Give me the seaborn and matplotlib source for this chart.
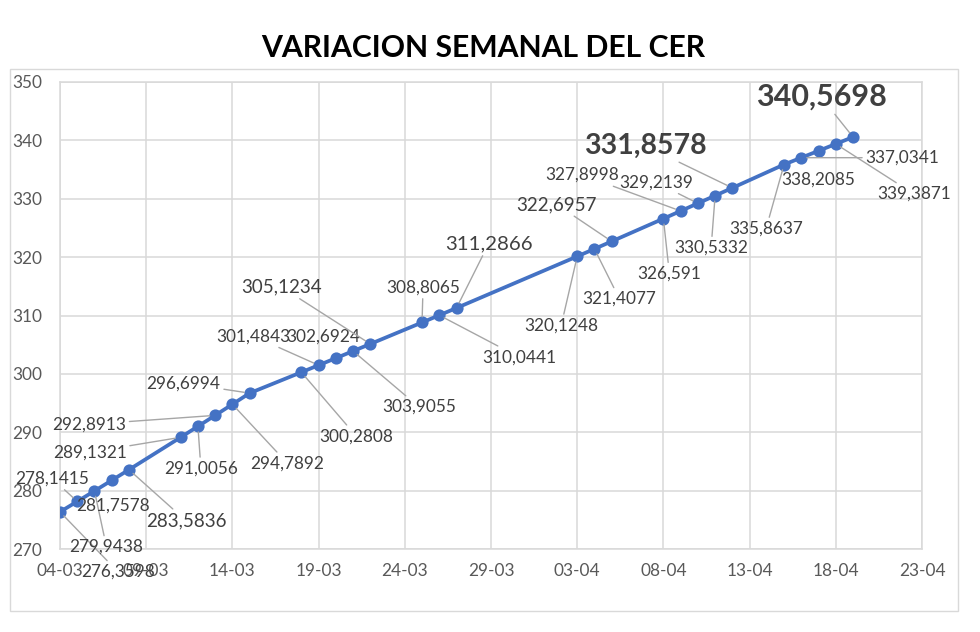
import matplotlib
matplotlib.use("Agg")
import matplotlib.pyplot as plt
import matplotlib.dates as mdates
from matplotlib.patches import Rectangle
import seaborn as sns
import pandas as pd

# ---------------- data ----------------
dates = ["2024-03-04", "2024-03-05", "2024-03-06", "2024-03-07", "2024-03-08",
         "2024-03-11", "2024-03-12", "2024-03-13", "2024-03-14", "2024-03-15",
         "2024-03-18", "2024-03-19", "2024-03-20", "2024-03-21", "2024-03-22",
         "2024-03-25", "2024-03-26", "2024-03-27",
         "2024-04-03", "2024-04-04", "2024-04-05",
         "2024-04-08", "2024-04-09", "2024-04-10", "2024-04-11", "2024-04-12",
         "2024-04-15", "2024-04-16", "2024-04-17", "2024-04-18", "2024-04-19"]
cer = [276.3598, 278.1415, 279.9438, 281.7578, 283.5836,
       289.1321, 291.0056, 292.8913, 294.7892, 296.6994,
       300.2808, 301.4843, 302.6924, 303.9055, 305.1234,
       308.8065, 310.0441, 311.2866,
       320.1248, 321.4077, 322.6957,
       326.591, 327.8998, 329.2139, 330.5332, 331.8578,
       335.8637, 337.0341, 338.2085, 339.3871, 340.5698]
title = "VARIACION SEMANAL DEL CER"
x_start, x_end = "2024-03-04", "2024-04-23"
y_min, y_max, y_step = 270, 350, 10

# ---------------- layout of the data labels (pixel offsets, style, leader) ----------------
label_offsets = [(58, -60), (-25, 23), (12, -56), (1, -25), (57, -51),
                 (-91, -15), (3, -42), (-126, -9), (55, -59), (-66, 10),
                 (55, -64), (-65, 29), (-13, 22), (66, -56), (-89, 57),
                 (1, 35), (80, -42), (32, 64),
                 (-16, -69), (25, -50), (-55, 37),
                 (6, -55), (-98, 36), (-42, 21), (-4, -52), (-87, 42),
                 (-18, -64), (101, 0), (0, -29), (78, -50), (-32, 40)]
label_styles = ["n", "n", "n", "n", "m1",
                "n", "n", "n", "n", "n",
                "n", "n", "n", "n", "m1",
                "n", "n", "m2",
                "n", "n", "m1",
                "n", "n", "n", "n", "b1",
                "n", "n", "n", "n", "b2"]
style_map = {"n": (12.4, "normal"), "m1": (13.5, "normal"), "m2": (14.7, "normal"),
             "b1": (20.5, "bold"), "b2": (22.0, "bold")}
no_leader = {3, 12, 28}

# ---------------- figure ----------------
sns.set_style("white")
plt.rcParams["font.family"] = ["Lato", "DejaVu Sans"]

fig = plt.figure(figsize=(9.8, 6.32), dpi=100)
ax = fig.add_axes([60 / 980, 1 - 549 / 632, 862 / 980, (549 - 82) / 632])

df = pd.DataFrame({"date": pd.to_datetime(dates), "cer": cer})
line_color = "#4472C4"
sns.lineplot(data=df, x="date", y="cer", ax=ax, color=line_color, linewidth=2.7,
             marker="o", markersize=8.8, markeredgewidth=0, zorder=3)

ax.set_xlim(pd.Timestamp(x_start), pd.Timestamp(x_end))
ax.set_ylim(y_min, y_max)
ax.set_xticks(pd.date_range(x_start, x_end, freq="5D"))
ax.xaxis.set_major_formatter(mdates.DateFormatter("%d-%m"))
ax.set_yticks(range(y_min, y_max + 1, y_step))
ax.set_xlabel("")
ax.set_ylabel("")

grid_color = "#d9d9d9"
ax.grid(True, color=grid_color, linewidth=1.1, zorder=0)
ax.set_axisbelow(True)
for s in ax.spines.values():
    s.set_color(grid_color)
    s.set_linewidth(1.1)
ax.tick_params(axis="both", length=0, labelsize=12.4, labelcolor="#595959")
ax.tick_params(axis="y", pad=13)
ax.tick_params(axis="x", pad=10)

for i, (d, v) in enumerate(zip(df["date"], cer)):
    dx, dy = label_offsets[i]
    size, weight = style_map[label_styles[i]]
    txt = f"{v}".replace(".", ",")
    arrow = None if i in no_leader else dict(arrowstyle="-", color="#a6a6a6", lw=1.0,
                                             shrinkA=0, shrinkB=4)
    ax.annotate(txt, xy=(mdates.date2num(d), v), xytext=(dx, dy),
                textcoords="offset pixels", ha="center", va="center",
                fontsize=size, fontweight=weight, color="#404040",
                arrowprops=arrow, zorder=6, annotation_clip=False)

fig.text(483 / 980, 1 - 48 / 632, title, ha="center", va="center",
         fontsize=21.7, fontweight="bold", color="#000000")

fig.patches.append(Rectangle((10 / 980, 1 - 611 / 632), 948 / 980, 542 / 632,
                             transform=fig.transFigure, fill=False,
                             edgecolor=grid_color, linewidth=1.0))

fig.savefig("out.png", dpi=100)
